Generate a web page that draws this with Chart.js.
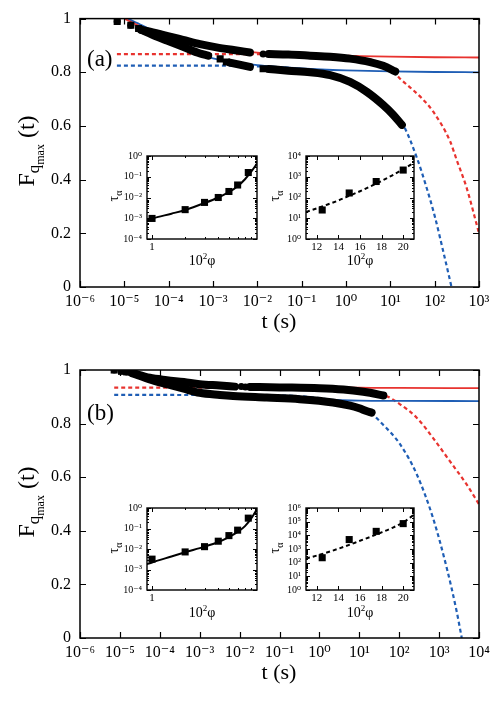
<!DOCTYPE html>
<html>
<head>
<meta charset="utf-8">
<script src="https://cdn.jsdelivr.net/npm/chart.js@4.4.1/dist/chart.umd.min.js"></script>
<style>
  body { margin: 0; background: #fff; }
  #wrap { position: relative; width: 502px; height: 702px; }
  canvas { position: absolute; display: block; }
</style>
</head>
<body>
<div id="wrap">
  <canvas id="mainA" width="502" height="351" style="left:0;top:0"></canvas>
  <canvas id="mainB" width="502" height="351" style="left:0;top:351px"></canvas>
  <canvas id="inAL" width="162" height="130" style="left:100px;top:145px"></canvas>
  <canvas id="inAR" width="158" height="130" style="left:262px;top:145px"></canvas>
  <canvas id="inBL" width="162" height="130" style="left:100px;top:497px"></canvas>
  <canvas id="inBR" width="158" height="130" style="left:262px;top:497px"></canvas>
</div>
<script>
// ---- panel (a) : [t (s), F] ----
const aUpperMarks = [[6.9e-6, 0.989], [1.4e-5, 0.975], [2.1e-5, 0.963], [1.35e-2, 0.868]];
const aUpperBand1 = [[2.4e-5, 0.958], [3.8e-5, 0.951], [9.1e-5, 0.936], [2.1e-4, 0.921], [5.1e-4, 0.905], [1.2e-3, 0.893], [2.9e-3, 0.883], [6.8e-3, 0.874]];
const aUpperBand2 = [[1.8e-2, 0.868], [5.0e-2, 0.866], [0.155, 0.862], [0.44, 0.858], [1.23, 0.851], [3.5, 0.838], [6.9, 0.824], [12.9, 0.803]];
const aLowerMarks = [[6.9e-6, 0.989], [1.4e-5, 0.975], [2.1e-5, 0.963], [1.45e-3, 0.85], [2.0e-3, 0.838], [1.35e-2, 0.813]];
const aLowerBand1 = [[2.4e-5, 0.958], [5.0e-5, 0.935], [9.1e-5, 0.918], [2.1e-4, 0.895], [5.1e-4, 0.87], [7.8e-4, 0.862]];
const aLowerBand1b = [[2.4e-3, 0.836], [6.8e-3, 0.82]];
const aLowerBand2 = [[1.8e-2, 0.812], [5.0e-2, 0.806], [0.155, 0.80], [0.44, 0.789], [1.23, 0.764], [2.95, 0.727], [6.9, 0.678], [11.7, 0.641], [18.2, 0.604]];
const aRedSolid = [[1e-5, 1.0], [3.2e-5, 0.96], [1e-4, 0.935], [3.2e-4, 0.912], [1e-3, 0.896], [3.2e-3, 0.884], [1e-2, 0.873], [0.1, 0.866], [1, 0.861], [10, 0.858], [100, 0.856], [1000, 0.855]];
const aRedDash = [[6.8e-6, 0.868], [1e-3, 0.868], [0.1, 0.867], [1, 0.862], [3.2, 0.85], [10, 0.815], [16.6, 0.776], [32, 0.735], [50, 0.705], [93, 0.653], [224, 0.542], [316, 0.472], [525, 0.37], [1000, 0.2]];
const aBlueSolid = [[1.2e-5, 1.0], [2.5e-5, 0.975], [1e-4, 0.925], [3.2e-4, 0.88], [1e-3, 0.852], [3.2e-3, 0.837], [1e-2, 0.827], [3.2e-2, 0.82], [0.1, 0.814], [1, 0.807], [10, 0.803], [100, 0.801], [1000, 0.80]];
const aBlueDash = [[6.8e-6, 0.825], [1e-3, 0.825], [1e-2, 0.822], [0.1, 0.812], [0.32, 0.798], [1, 0.775], [3.2, 0.73], [10, 0.66], [20, 0.60], [40, 0.48], [63, 0.38], [100, 0.265], [160, 0.125], [240, 0.0]];

// ---- panel (b) ----
const bUpperMarks = [[7.2e-6, 1.0], [1.48e-5, 0.993], [1.1e-2, 0.938], [1.4e-2, 0.937]];
const bUpperBand1 = [[2.0e-5, 0.99], [5.6e-5, 0.971], [1.5e-4, 0.962], [4.0e-4, 0.955], [1.0e-3, 0.947], [3.2e-3, 0.942], [7.6e-3, 0.938]];
const bUpperBand2 = [[1.8e-2, 0.937], [0.1, 0.935], [1, 0.932], [4.0, 0.927], [12.6, 0.919], [18.6, 0.915], [40, 0.905]];
const bLowerMarks = [[7.2e-6, 1.0], [1.1e-5, 0.995], [1.48e-5, 0.993]];
const bLowerBand = [[2.0e-5, 0.988], [5.6e-5, 0.965], [1.5e-4, 0.947], [4.0e-4, 0.93], [1.0e-3, 0.915], [3.2e-3, 0.907], [6.9e-3, 0.903], [4.8e-2, 0.897], [0.32, 0.891], [2.2, 0.879], [5.9, 0.867], [10, 0.857], [15.1, 0.847], [20.4, 0.841]];
const bRedSolid = [[1e-5, 1.0], [3.2e-5, 0.975], [1e-4, 0.962], [3.2e-4, 0.953], [1e-3, 0.947], [1e-2, 0.94], [0.1, 0.937], [1, 0.935], [10, 0.934], [100, 0.933], [1e4, 0.932]];
const bRedDash = [[7.2e-6, 0.934], [1, 0.934], [10, 0.93], [40, 0.909], [105, 0.872], [275, 0.822], [700, 0.747], [1860, 0.66], [4900, 0.573], [1e4, 0.499]];
const bBlueSolid = [[1.2e-5, 1.0], [3.2e-5, 0.975], [1e-4, 0.955], [1e-3, 0.925], [1e-2, 0.906], [0.1, 0.896], [1, 0.89], [10, 0.886], [100, 0.885], [1e4, 0.884]];
const bBlueDash = [[7.2e-6, 0.907], [0.1, 0.905], [1, 0.895], [3.2, 0.88], [10, 0.86], [18.6, 0.841], [40, 0.795], [105, 0.723], [275, 0.611], [700, 0.449], [1550, 0.262], [2750, 0.10], [3700, 0.0]];

// ---- insets : tau_alpha vs 10^2 phi ----
const leftPhi = [1, 2, 3, 4, 5, 6, 7.5];
const aLeftTau = [9.8e-4, 2.6e-3, 5.8e-3, 1.0e-2, 1.95e-2, 4.0e-2, 0.16];
const bLeftTau = [3.2e-3, 7.2e-3, 1.3e-2, 2.4e-2, 4.5e-2, 8.3e-2, 0.32];
const leftFitPhi = [0.9, 1, 1.5, 2, 3, 4, 5, 6, 7, 8, 9];
const aLeftFitTau = [7.6e-4, 9.5e-4, 1.66e-3, 2.5e-3, 5.4e-3, 1.0e-2, 1.8e-2, 3.5e-2, 7.6e-2, 0.18, 0.43];
const bLeftFitTau = [1.8e-3, 2.2e-3, 4.3e-3, 6.9e-3, 1.3e-2, 2.2e-2, 3.8e-2, 6.8e-2, 0.13, 0.32, 0.89];

const rightPhi = [12.5, 15, 17.5, 20];
const aRightTau = [25, 165, 590, 2100];
const bRightTau = [230, 4900, 19500, 72000];
const rightFitPhi = [11, 12, 13, 14, 15, 16, 17, 18, 19, 20, 21];
const aRightFitTau = [20, 30, 46, 72, 120, 200, 350, 630, 1180, 2300, 4800];
const bRightFitTau = [200, 330, 575, 1050, 2000, 4000, 7900, 16600, 35500, 89000, 316000];

// ---- tick labels ----
const aTimeTicks = [1e-6, 1e-5, 1e-4, 1e-3, 1e-2, 1e-1, 1, 10, 100, 1000];
const bTimeTicks = [1e-6, 1e-5, 1e-4, 1e-3, 1e-2, 1e-1, 1, 10, 100, 1000, 1e4];
const fTicks = [0, 0.2, 0.4, 0.6, 0.8, 1];
const tauTicksLeft = [1e-4, 1e-3, 1e-2, 1e-1, 1];
const tauTicksA = [1, 10, 100, 1000, 1e4];
const tauTicksB = [1, 10, 100, 1000, 1e4, 1e5, 1e6];
const phiTicksLeft = [1];
const phiTicksRight = [12, 14, 16, 18, 20];

const RED = '#e8332f';
const BLUE = '#1f5eb5';
const SERIF = '"Liberation Serif", "DejaVu Serif", serif';

const SUP = '⁰¹²³⁴⁵⁶⁷⁸⁹';
const sup = n => String(n).split('').map(c => c === '-' ? '⁻' : SUP[+c]).join('');
const powLabel = v => '10' + sup(Math.round(Math.log10(v)));
const minorsOf = decades => decades.slice(0, -1).flatMap(d => [2, 3, 4, 5, 6, 7, 8, 9].map(k => k * d));

const pts = arr => arr.map(([x, y]) => ({ x, y }));
const xy = (xs, ys) => xs.map((x, i) => ({ x, y: ys[i] }));

// inward ticks on all four sides + frame
Chart.register({
    id: 'frame',
    afterDraw(chart, args, o) {
        if (!o || !o.on) return;
        const { ctx, chartArea: a, scales } = chart;
        ctx.save();
        ctx.strokeStyle = '#000';
        ctx.lineWidth = o.tw;
        ctx.beginPath();
        const xt = (vals, len) => vals.forEach(v => {
            const p = Math.round(scales.x.getPixelForValue(v)) + 0.5;
            ctx.moveTo(p, a.bottom); ctx.lineTo(p, a.bottom - len);
            ctx.moveTo(p, a.top); ctx.lineTo(p, a.top + len);
        });
        const yt = (vals, len) => vals.forEach(v => {
            const p = Math.round(scales.y.getPixelForValue(v)) + 0.5;
            ctx.moveTo(a.left, p); ctx.lineTo(a.left + len, p);
            ctx.moveTo(a.right, p); ctx.lineTo(a.right - len, p);
        });
        xt(o.xMajor, o.len);
        yt(o.yMajor, o.len);
        xt(o.xMinor || [], o.minor);
        yt(o.yMinor || [], o.minor);
        ctx.stroke();
        ctx.lineWidth = o.lw;
        ctx.strokeRect(a.left, a.top, a.right - a.left, a.bottom - a.top);
        ctx.restore();
    }
});

// text with sub/superscripts, optionally rotated
Chart.register({
    id: 'notes',
    afterDraw(chart, args, o) {
        if (!o || !o.items) return;
        const ctx = chart.ctx;
        o.items.forEach(it => {
            ctx.save();
            ctx.translate(it.x, it.y);
            if (it.rot) ctx.rotate(-Math.PI / 2);
            ctx.fillStyle = '#000';
            ctx.textBaseline = 'alphabetic';
            ctx.textAlign = 'left';
            let w = 0;
            it.runs.forEach(r => { ctx.font = r[1] + 'px ' + SERIF; w += ctx.measureText(r[0]).width; });
            let cx = it.align === 'center' ? -w / 2 : 0;
            it.runs.forEach(r => {
                ctx.font = r[1] + 'px ' + SERIF;
                ctx.fillText(r[0], cx, r[2]);
                cx += ctx.measureText(r[0]).width;
            });
            ctx.restore();
        });
    }
});

function band(arr) {
    return { data: pts(arr), showLine: true, borderColor: '#000', borderWidth: 8, pointRadius: 0,
             borderCapStyle: 'round', borderJoinStyle: 'round', cubicInterpolationMode: 'monotone' };
}
function marks(arr, style, r) {
    return { data: pts(arr), showLine: false, pointStyle: style, pointRadius: r,
             backgroundColor: '#000', borderColor: '#000', borderWidth: 0 };
}
function fit(arr, color, dashed) {
    return { data: pts(arr), showLine: true, borderColor: color, borderWidth: dashed ? 2.2 : 1.8,
             borderDash: dashed ? [4, 3] : [], pointRadius: 0, cubicInterpolationMode: 'monotone' };
}

function mainChart(id, tMax, tTicks, top, datasets, tag) {
    return new Chart(document.getElementById(id), {
        type: 'scatter',
        data: { datasets },
        options: {
            responsive: false,
            animation: false,
            events: [],
            layout: { padding: { left: 0, right: 23, top: top, bottom: 0 } },
            plugins: {
                legend: { display: false },
                tooltip: { enabled: false },
                frame: { on: true, xMajor: tTicks, yMajor: fTicks, len: 6, tw: 1.2, lw: 1.5 },
                notes: { items: [
                    { runs: [[tag, 23, 0]], x: 87, y: 66 + (top - 16) },
                    { runs: [['t (s)', 22, 0]], x: 279, y: 328, align: 'center' },
                    { runs: [['F', 24, 0], ['q', 17, 5], ['max', 12, 10], [' (t)', 24, 0]], x: 34, y: 151, align: 'center', rot: true }
                ] }
            },
            scales: {
                x: {
                    type: 'logarithmic', min: 1e-6, max: tMax,
                    afterFit: s => { s.height = 64; },
                    afterBuildTicks: s => { s.ticks = tTicks.map(v => ({ value: v })); },
                    grid: { display: false, drawTicks: false },
                    border: { display: false },
                    ticks: { callback: v => powLabel(v), font: { family: SERIF, size: 16 }, color: '#000',
                             padding: 5, maxRotation: 0, autoSkip: false }
                },
                y: {
                    type: 'linear', min: 0, max: 1,
                    afterFit: s => { s.width = 80; },
                    afterBuildTicks: s => { s.ticks = fTicks.map(v => ({ value: v })); },
                    grid: { display: false, drawTicks: false },
                    border: { display: false },
                    ticks: { callback: v => (v === 0 || v === 1) ? String(v) : v.toFixed(1),
                             font: { family: SERIF, size: 16 }, color: '#000', padding: 9 }
                }
            }
        }
    });
}

function insetChart(id, o) {
    return new Chart(document.getElementById(id), {
        type: 'scatter',
        data: { datasets: [
            { data: xy(o.px, o.py), showLine: false, pointStyle: 'rect', pointRadius: 5,
              backgroundColor: '#000', borderWidth: 0 },
            { data: xy(o.fx, o.fy), showLine: true, borderColor: '#000', borderWidth: 2,
              borderDash: o.dashed ? [4, 3] : [], pointRadius: 0, cubicInterpolationMode: 'monotone' }
        ] },
        options: {
            responsive: false,
            animation: false,
            events: [],
            layout: { padding: { left: 0, right: o.padRight, top: 9, bottom: 0 } },
            plugins: {
                legend: { display: false },
                tooltip: { enabled: false },
                frame: { on: true, xMajor: o.xTicks, xMinor: o.xMinor, yMajor: o.yTicks,
                         yMinor: minorsOf(o.yTicks), len: 4, minor: 2, tw: 1, lw: 1.4 },
                notes: { items: [
                    { runs: [['τ', 14, 0], ['α', 10, 4]], x: o.tauX, y: 51, align: 'center', rot: true },
                    { runs: [['10', 14, 0], ['2', 9, -6], ['φ', 14, 0]], x: o.phiX, y: 120, align: 'center' }
                ] }
            },
            scales: {
                x: {
                    type: o.xType, min: o.xMin, max: o.xMax,
                    afterFit: s => { s.height = o.xHeight; },
                    afterBuildTicks: s => { s.ticks = o.xTicks.map(v => ({ value: v })); },
                    grid: { display: false, drawTicks: false },
                    border: { display: false },
                    ticks: { callback: v => String(v), font: { family: SERIF, size: 11 }, color: '#000',
                             padding: 2, maxRotation: 0, autoSkip: false }
                },
                y: {
                    type: 'logarithmic', min: o.yTicks[0], max: o.yTicks[o.yTicks.length - 1],
                    afterFit: s => { s.width = o.yWidth; },
                    afterBuildTicks: s => { s.ticks = o.yTicks.map(v => ({ value: v })); },
                    grid: { display: false, drawTicks: false },
                    border: { display: false },
                    ticks: { callback: v => powLabel(v), font: { family: SERIF, size: 10 }, color: '#000',
                             padding: 5, autoSkip: false }
                }
            }
        }
    });
}

mainChart('mainA', 1e3, aTimeTicks, 16, [
    band(aUpperBand1), band(aUpperBand2), band(aLowerBand1), band(aLowerBand1b), band(aLowerBand2),
    marks(aUpperMarks, 'circle', 3.5), marks(aLowerMarks, 'rect', 5),
    fit(aRedSolid, RED, false), fit(aBlueSolid, BLUE, false),
    fit(aRedDash, RED, true), fit(aBlueDash, BLUE, true)
], '(a)');

mainChart('mainB', 1e4, bTimeTicks, 19, [
    band(bUpperBand1), band(bUpperBand2), band(bLowerBand),
    marks(bUpperMarks, 'circle', 3.5), marks(bLowerMarks, 'rect', 5),
    fit(bRedSolid, RED, false), fit(bBlueSolid, BLUE, false),
    fit(bRedDash, RED, true), fit(bBlueDash, BLUE, true)
], '(b)');

const leftBase = { xType: 'logarithmic', xMin: 0.9, xMax: 9, xTicks: phiTicksLeft, xMinor: [2, 3, 4, 5, 6, 7, 8],
                   yTicks: tauTicksLeft, yWidth: 47, padRight: 5, tauX: 18, phiX: 102,
                   px: leftPhi, fx: leftFitPhi, dashed: false };
const rightBase = { xType: 'linear', xMin: 11, xMax: 21, xTicks: phiTicksRight, xMinor: [],
                    yWidth: 44, padRight: 6, tauX: 17, phiX: 98,
                    px: rightPhi, fx: rightFitPhi, dashed: true };

insetChart('inAL', Object.assign({}, leftBase, { xHeight: 36, py: aLeftTau, fy: aLeftFitTau }));
insetChart('inAR', Object.assign({}, rightBase, { xHeight: 36, yTicks: tauTicksA, py: aRightTau, fy: aRightFitTau }));
insetChart('inBL', Object.assign({}, leftBase, { xHeight: 37, py: bLeftTau, fy: bLeftFitTau }));
insetChart('inBR', Object.assign({}, rightBase, { xHeight: 37, yTicks: tauTicksB, py: bRightTau, fy: bRightFitTau }));
</script>
</body>
</html>
